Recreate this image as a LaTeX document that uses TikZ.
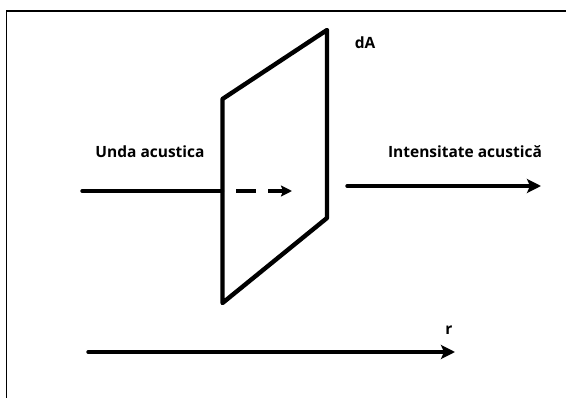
\documentclass[tikz,border=0pt]{standalone}
\usepackage{fontspec}
\setsansfont{Open Sans}
\usetikzlibrary{arrows.meta,positioning,calc}
\tikzset{
  surfline/.style={line width=4.4pt, line join=round, line cap=round},
  flowarr/.style={-{Stealth[length=14pt, width=14pt, inset=3pt]}, line width=3.4pt, line cap=round},
  flowlabel/.style={font=\sffamily\bfseries\fontsize{15.5}{18}\selectfont, inner sep=0pt},
}

\begin{document}
\begin{tikzpicture}[
  x=1pt, y=-1pt,
  frameline/.style={line width=1.6pt},
]
  \useasboundingbox (0,0) rectangle (566,398);
  \draw[frameline] (6.5,398) -- (6.5,11) -- (566,11);

  % surface element
  \coordinate (p1) at (222.5,99);
  \coordinate (p2) at (327,30);
  \coordinate (p3) at (327,218);
  \coordinate (p4) at (222.5,303);
  \draw[surfline] (p1) -- (p2) -- (p3) -- (p4) -- cycle;

  \coordinate (wavein) at (82,191);
  \coordinate (dashin) at (236,191);
  \coordinate (dashout) at (292,191);
  \coordinate (intin) at (347,186);
  \coordinate (intout) at (541,186);
  \coordinate (rin) at (88,352);
  \coordinate (rout) at (455,352);

  \draw[line width=3.4pt, line cap=round] (wavein) -- (wavein -| p1);
  \draw[flowarr, -{Stealth[length=11pt, width=11pt, inset=2pt]}, dash pattern=on 20pt off 12pt, line cap=butt] (dashin) -- (dashout);
  \draw[flowarr] (intin) -- (intout);
  \draw[flowarr] (rin) -- (rout);

  \node[flowlabel] (dA) at (365,43) {dA};
  \node[flowlabel] (unda) at (150,152) {Unda acustica};
  \node[flowlabel] (intens) at (465,152) {Intensitate acustică};
  \node[flowlabel] (r) at (449,330) {r};
\end{tikzpicture}
\end{document}
